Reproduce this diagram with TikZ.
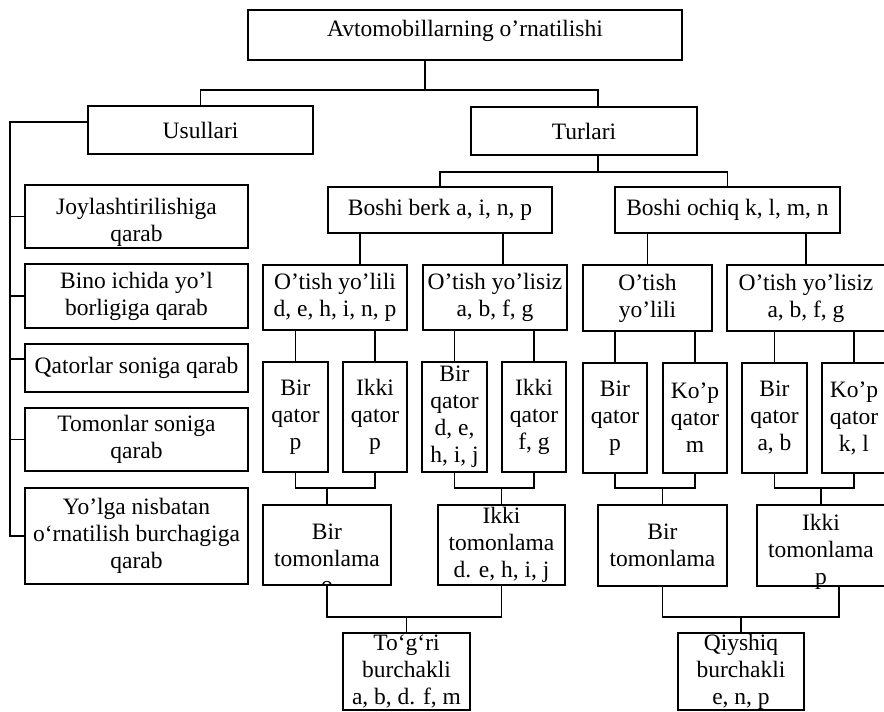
\documentclass[tikz,border=0pt]{standalone}
\usepackage{fontspec}
\setmainfont{Liberation Serif}
\begin{document}
\begin{tikzpicture}[x=1pt,y=-1pt,
  lw/.style={line width=1.5pt},
  bx/.style 2 args={draw, lw, inner sep=0pt, align=center,
     minimum width=#1, minimum height=#2,
     font=\fontsize{23.5}{27}\selectfont},
  link/.style={lw}]
\useasboundingbox (0,0) rectangle (884,712);
\fill[white] (0,0) rectangle (884,712);

% heights of the horizontal bus lines
\coordinate (h1) at (0,90);
\coordinate (h2) at (0,172);
\coordinate (h3) at (0,488);
\coordinate (h4) at (0,617);
\coordinate (sp) at (10,0);

% root and first level
\node[bx={434pt}{50pt}, text height=12pt, text depth=9pt] (root) at (465,35) {Avtomobillarning o’rnatilishi};
\node[bx={225pt}{48pt}] (usl) at (200.5,130) {Usullari};
\node[bx={226pt}{48pt}] (tur) at (584,131) {Turlari};

% methods column
\node[bx={223pt}{63pt}, text height=56pt, text depth=7pt] (j1) at (136.5,216.5) {Joylashtirilishiga\\qarab};
\node[bx={223pt}{64pt}] (j2) at (136.5,296) {Bino ichida yo’l\\borligiga qarab};
\node[bx={223pt}{48pt}] (j3) at (136.5,368) {Qatorlar soniga qarab};
\node[bx={223pt}{63pt}] (j4) at (136.5,439.5) {Tomonlar soniga\\qarab};
\node[bx={223pt}{96pt}] (j5) at (136.5,536) {Yo’lga nisbatan\\o‘rnatilish burchagiga\\qarab};

% types
\node[bx={224pt}{46pt}] (bbk) at (440,210) {Boshi berk a, i, n, p};
\node[bx={225pt}{46pt}] (boc) at (727.5,210) {Boshi ochiq k, l, m, n};

\node[bx={144pt}{65pt}] (oy1) at (335,297.5) {O’tish yo’lili\\d, e, h, i, n, p};
\node[bx={144pt}{65pt}] (oz1) at (495,297.5) {O’tish yo’lisiz\\a, b, f, g};
\node[bx={129pt}{66pt}] (oy2) at (647.5,298) {O’tish\\yo’lili};
\node[bx={158pt}{66pt}] (oz2) at (806,298) {O’tish yo’lisiz\\a, b, f, g};

\node[bx={65pt}{110pt}] (bq1) at (295.5,417) {Bir\\qator\\p};
\node[bx={64pt}{110pt}] (iq1) at (375,417) {Ikki\\qator\\p};
\node[bx={65pt}{110pt}] (bq2) at (454.5,417) {Bir\\qator\\d, e,\\h, i, j};
\node[bx={64pt}{110pt}] (iq2) at (534,417) {Ikki\\qator\\f, g};
\node[bx={64pt}{110pt}] (bq3) at (615,418) {Bir\\qator\\p};
\node[bx={64pt}{110pt}] (kq3) at (695,418) {Ko’p\\qator\\m};
\node[bx={65pt}{110pt}] (bq4) at (774.5,418) {Bir\\qator\\a, b};
\node[bx={64pt}{110pt}] (kq4) at (854,418) {Ko’p\\qator\\k, l};

\node[bx={128pt}{80pt}] (bt1) at (327,545) {Bir\\tomonlama};
\node[bx={127pt}{80pt}] (it1) at (501.5,545) {Ikki\\tomonlama\\d. e, h, i, j};
\node[bx={129pt}{81pt}] (bt2) at (662.5,545.5) {Bir\\tomonlama};
\node[bx={128pt}{81pt}, text height=79pt, text depth=2pt] (it2) at (821,545.5) {Ikki\\tomonlama\\p};

\node[bx={127pt}{77pt}] (tog) at (406.5,671.5) {To‘g‘ri\\burchakli\\a, b, d. f, m};
\node[bx={126pt}{77pt}] (qiy) at (741,671.5) {Qiyshiq\\burchakli\\e, n, p};

% third line of the left one-sided box, cut by its lower edge
\begin{scope}
  \clip (bt1.north west) rectangle (bt1.south east);
  \node[anchor=base, inner sep=0pt, font=\fontsize{23.5}{27}\selectfont] (bt1o) at ([yshift=-7pt]bt1.south) {o};
\end{scope}

% connectors: root to first level
\draw[link] ([xshift=-40pt]root.south) -- ([xshift=-40pt]root.south |- h1);
\draw[link] (usl.north) |- ([xshift=14pt]tur.north |- h1) -- ([xshift=14pt]tur.north);

% methods spine
\draw[link] ([yshift=8pt]usl.west) -| (sp |- j5.west) -- (j5.west);
\foreach \n in {j1,j2,j4} \draw[link] (\n.west) -- (\n.west -| sp);
\draw[link] ([yshift=9pt]j3.west) -- ([yshift=9pt]j3.west -| sp);

% types tree
\draw[link] ([xshift=14pt]tur.south) -- ([xshift=14pt]tur.south |- h2);
\draw[link] (bbk.north) |- (boc.north |- h2) -- (boc.north);
\draw[link] ([xshift=-80pt]bbk.south) -- ([xshift=-80pt]bbk.south |- oy1.north);
\draw[link] ([xshift=63pt]bbk.south) -- ([xshift=63pt]bbk.south |- oz1.north);
\draw[link] (boc.south -| oy2.north) -- (oy2.north);
\draw[link] (boc.south -| oz2.north) -- (oz2.north);
\foreach \p/\c in {oy1/bq1, oy1/iq1, oz1/bq2, oz1/iq2, oy2/bq3, oy2/kq3, oz2/bq4, oz2/kq4}
  \draw[link] (\p.south -| \c.north) -- (\c.north);

% pairs of rows joined into one-/two-sided boxes
\foreach \a/\b/\m in {bq1/iq1/bt1, bq2/iq2/it1, bq3/kq3/bt2, bq4/kq4/it2} {
  \draw[link] (\a.south) |- (\b.south |- h3) -- (\b.south);
  \draw[link] (\m.north) -- (\m.north |- h3);
}

% final level
\draw[link] (bt1.south) |- (it1.south |- h4) -- (it1.south);
\draw[link] (tog.north) -- (tog.north |- h4);
\draw[link] (bt2.south) |- ([xshift=18pt]it2.south |- h4) -- ([xshift=18pt]it2.south);
\draw[link] (qiy.north) -- (qiy.north |- h4);
\end{tikzpicture}
\end{document}
